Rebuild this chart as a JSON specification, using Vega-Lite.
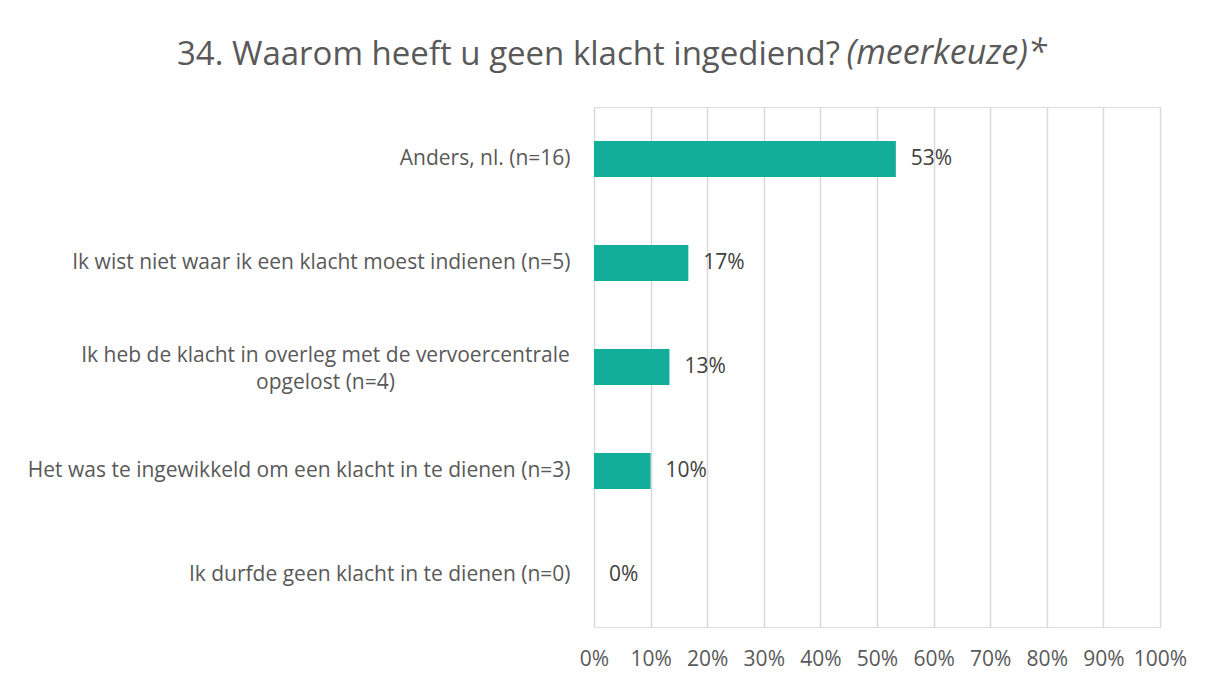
{
  "$schema": "https://vega.github.io/schema/vega-lite/v6.json",
  "width": 566,
  "height": 520,
  "autosize": {"type": "none"},
  "padding": {"left": 594, "top": 107, "right": 52, "bottom": 57},
  "background": "white",
  "title": {
    "text": "34. Waarom heeft u geen klacht ingediend?",
    "anchor": "start",
    "frame": "group",
    "dx": -417,
    "offset": -36,
    "font": "Open Sans",
    "fontSize": 33,
    "fontWeight": "normal",
    "color": "#595959"
  },
  "data": {
    "values": [
      {"antwoord": "Anders, nl. (n=16)", "aandeel": 0.5333},
      {"antwoord": "Ik wist niet waar ik een klacht moest indienen (n=5)", "aandeel": 0.1667},
      {"antwoord": "Ik heb de klacht in overleg met de vervoercentrale opgelost (n=4)", "aandeel": 0.1333},
      {"antwoord": "Het was te ingewikkeld om een klacht in te dienen (n=3)", "aandeel": 0.1},
      {"antwoord": "Ik durfde geen klacht in te dienen (n=0)", "aandeel": 0}
    ]
  },
  "encoding": {
    "y": {
      "field": "antwoord",
      "type": "nominal",
      "sort": null,
      "title": "(meerkeuze)*",
      "scale": {"paddingInner": 0.654, "paddingOuter": 0.327},
      "axis": {
        "domain": false,
        "ticks": false,
        "grid": false,
        "labelFont": "Open Sans",
        "labelFontSize": 21,
        "labelColor": "#595959",
        "labelLimit": 700,
        "labelLineHeight": 27,
        "labelExpr": "indexof(datum.value, 'vervoercentrale') >= 0 ? ['Ik heb de klacht in overleg met de vervoercentrale', 'opgelost (n=4)'] : datum.value",
        "labelAlign": {"condition": {"test": "indexof(datum.value, 'vervoercentrale') >= 0", "value": "center"}, "value": "right"},
        "labelPadding": {"condition": {"test": "indexof(datum.value, 'vervoercentrale') >= 0", "value": 269}, "value": 24},
        "labelOffset": {"condition": {"test": "indexof(datum.value, 'vervoercentrale') >= 0", "value": -11}, "value": 0},
        "titleAngle": 0,
        "titleAlign": "left",
        "titleBaseline": "alphabetic",
        "titleX": 252,
        "titleY": -44,
        "titleFont": "Open Sans",
        "titleFontSize": 34,
        "titleFontStyle": "italic",
        "titleFontWeight": "normal",
        "titleColor": "#595959"
      }
    }
  },
  "layer": [
    {
      "mark": {"type": "bar", "color": "#12AE9B"},
      "encoding": {
        "x": {
          "field": "aandeel",
          "type": "quantitative",
          "scale": {"domain": [0, 1]},
          "title": null,
          "axis": {
            "format": ".0%",
            "values": [0, 0.1, 0.2, 0.3, 0.4, 0.5, 0.6, 0.7, 0.8, 0.9, 1],
            "domain": false,
            "ticks": false,
            "grid": true,
            "gridColor": "#D9D9D9",
            "gridWidth": 1.5,
            "labelFont": "Open Sans",
            "labelFontSize": 21,
            "labelColor": "#595959",
            "labelPadding": 21,
            "labelOverlap": false,
            "labelBound": false,
            "labelFlush": false
          }
        }
      }
    },
    {
      "mark": {"type": "text", "align": "left", "baseline": "middle", "dx": 15, "font": "Open Sans", "fontSize": 21, "color": "#404040"},
      "encoding": {
        "x": {"field": "aandeel", "type": "quantitative"},
        "text": {"field": "aandeel", "type": "quantitative", "format": ".0%"}
      }
    }
  ]
}
